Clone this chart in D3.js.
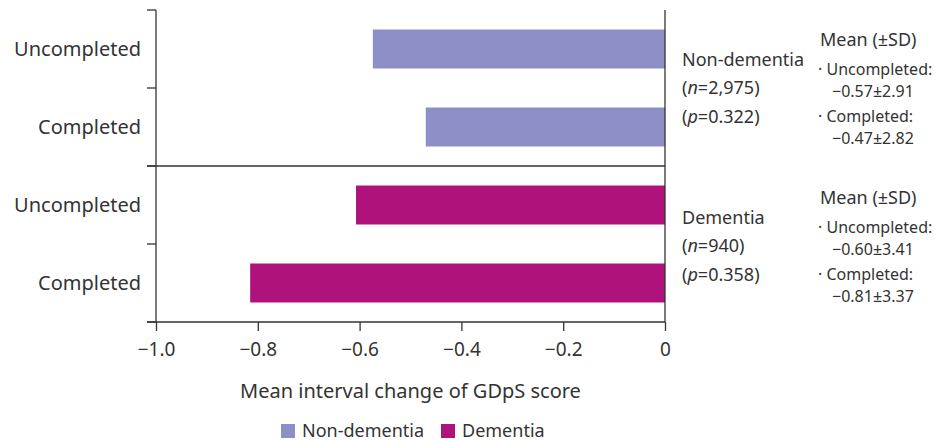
<!DOCTYPE html>
<html>
<head>
<meta charset="utf-8">
<script src="https://cdn.jsdelivr.net/npm/d3@7"></script>
<style>
body { margin: 0; background: #fff; }
text { font-family: "Noto Sans", sans-serif; fill: #333; }
</style>
</head>
<body>
<div id="chart"></div>
<script>
// Data
var groups = ["Non-dementia", "Dementia"];
var categories = ["Uncompleted", "Completed"];
// bar lengths
var nonDementiaBars = [-0.574, -0.47];
var dementiaBars = [-0.607, -0.815];
// values printed in the notes
var nonDementiaMeans = ["0.57", "0.47"];
var dementiaMeans = ["0.60", "0.81"];
var nonDementiaSD = ["2.91", "2.82"];
var dementiaSD = ["3.41", "3.37"];
var groupN = ["2,975", "940"];
var groupP = ["0.322", "0.358"];
var xTicks = [-1.0, -0.8, -0.6, -0.4, -0.2, 0];
var colors = ["#8f8fc8", "#b0127c"];

var svgWidth = 945, svgHeight = 441;
var margin = { top: 10, left: 156 };
var plotRight = 665, plotBottom = 322;

var svg = d3.select("#chart").append("svg")
    .attr("width", svgWidth)
    .attr("height", svgHeight);

// rows built from arrays
var rows = [];
groups.forEach(function(g, gi) {
    var bars = gi === 0 ? nonDementiaBars : dementiaBars;
    categories.forEach(function(c, ci) {
        rows.push({ key: g + "-" + c, group: g, gi: gi, cat: c, value: bars[ci] });
    });
});

var x = d3.scaleLinear().domain([-1, 0]).range([margin.left, plotRight]);
var y = d3.scaleBand().domain(rows.map(d => d.key))
    .range([margin.top, plotBottom]).paddingInner(0.5).paddingOuter(0.25);

// bars
svg.selectAll("rect.bar")
    .data(rows)
    .enter()
    .append("rect")
    .attr("class", "bar")
    .attr("x", d => x(d.value))
    .attr("y", d => y(d.key))
    .attr("width", d => x(0) - x(d.value))
    .attr("height", y.bandwidth())
    .attr("fill", d => colors[d.gi]);

var axisColor = "#333";

// left axis line + ticks at band boundaries
svg.append("line")
    .attr("x1", margin.left).attr("x2", margin.left)
    .attr("y1", margin.top).attr("y2", plotBottom)
    .attr("stroke", axisColor).attr("stroke-width", 1.3);

var bounds = d3.range(rows.length + 1).map(i => margin.top + i * (plotBottom - margin.top) / rows.length);
svg.selectAll("line.ytick")
    .data(bounds)
    .enter()
    .append("line")
    .attr("x1", margin.left - 9).attr("x2", margin.left)
    .attr("y1", d => d).attr("y2", d => d)
    .attr("stroke", axisColor).attr("stroke-width", 1.3);

// divider between groups
svg.append("line")
    .attr("x1", margin.left - 9).attr("x2", plotRight)
    .attr("y1", bounds[2]).attr("y2", bounds[2])
    .attr("stroke", axisColor).attr("stroke-width", 1.3);

// zero line
svg.append("line")
    .attr("x1", x(0)).attr("x2", x(0))
    .attr("y1", margin.top).attr("y2", plotBottom)
    .attr("stroke", axisColor).attr("stroke-width", 1.3);

// category labels
svg.selectAll("text.cat")
    .data(rows)
    .enter()
    .append("text")
    .attr("x", 141)
    .attr("y", d => y(d.key) + y.bandwidth() / 2)
    .attr("dy", "0.35em")
    .attr("text-anchor", "end")
    .style("font-size", "20px")
    .text(d => d.cat);

// bottom axis
var bottomAxis = d3.axisBottom(x)
    .tickValues(xTicks)
    .tickSize(9)
    .tickPadding(12)
    .tickFormat(d => d === 0 ? "0" : "\u2212" + d3.format(".1f")(-d));

var xAxisG = svg.append("g")
    .attr("transform", `translate(0, ${plotBottom})`)
    .call(bottomAxis);
xAxisG.select(".domain").remove();
xAxisG.selectAll("line").attr("stroke", axisColor).attr("stroke-width", 1.3);
xAxisG.selectAll("text")
    .style("font-size", "19px")
    .style("font-family", "Noto Sans, sans-serif")
    .attr("fill", "#333");

svg.append("line")
    .attr("x1", margin.left - 9).attr("x2", plotRight)
    .attr("y1", plotBottom).attr("y2", plotBottom)
    .attr("stroke", axisColor).attr("stroke-width", 1.3);

// x axis title
svg.append("text")
    .attr("x", (margin.left + plotRight) / 2)
    .attr("y", 398)
    .attr("text-anchor", "middle")
    .style("font-size", "20px")
    .text("Mean interval change of GDpS score");

// right-side annotations
groups.forEach(function(g, gi) {
    var top = bounds[gi * 2] + gi * 2;
    var means = gi === 0 ? nonDementiaMeans : dementiaMeans;
    var sds = gi === 0 ? nonDementiaSD : dementiaSD;

    svg.append("text").attr("x", 682).attr("y", top + 56)
        .style("font-size", "18px").text(g);
    var tn = svg.append("text").attr("x", 682).attr("y", top + 84).style("font-size", "18px");
    tn.append("tspan").text("(");
    tn.append("tspan").style("font-style", "italic").text("n");
    tn.append("tspan").text("=" + groupN[gi] + ")");
    var tp = svg.append("text").attr("x", 682).attr("y", top + 113).style("font-size", "18px");
    tp.append("tspan").text("(");
    tp.append("tspan").style("font-style", "italic").text("p");
    tp.append("tspan").text("=" + groupP[gi] + ")");

    svg.append("text").attr("x", 820).attr("y", top + 36)
        .style("font-size", "18px").text("Mean (\u00b1SD)");
    categories.forEach(function(c, ci) {
        svg.append("text").attr("x", 818).attr("y", top + 65 + ci * 47)
            .style("font-size", "16px").text("\u00b7 " + c + ":");
        svg.append("text").attr("x", 832).attr("y", top + 87 + ci * 47)
            .style("font-size", "16px")
            .text("\u2212" + means[ci] + "\u00b1" + sds[ci]);
    });
});

// legend
var legend = svg.append("g").attr("transform", "translate(281, 431)");
var legX = [0, 160];
groups.forEach(function(g, gi) {
    legend.append("rect")
        .attr("x", legX[gi]).attr("y", -7)
        .attr("width", 14).attr("height", 14)
        .attr("fill", colors[gi]);
    legend.append("text")
        .attr("x", legX[gi] + 21).attr("y", 0)
        .attr("dy", "0.35em")
        .style("font-size", "18px")
        .text(g);
});
</script>
</body>
</html>
